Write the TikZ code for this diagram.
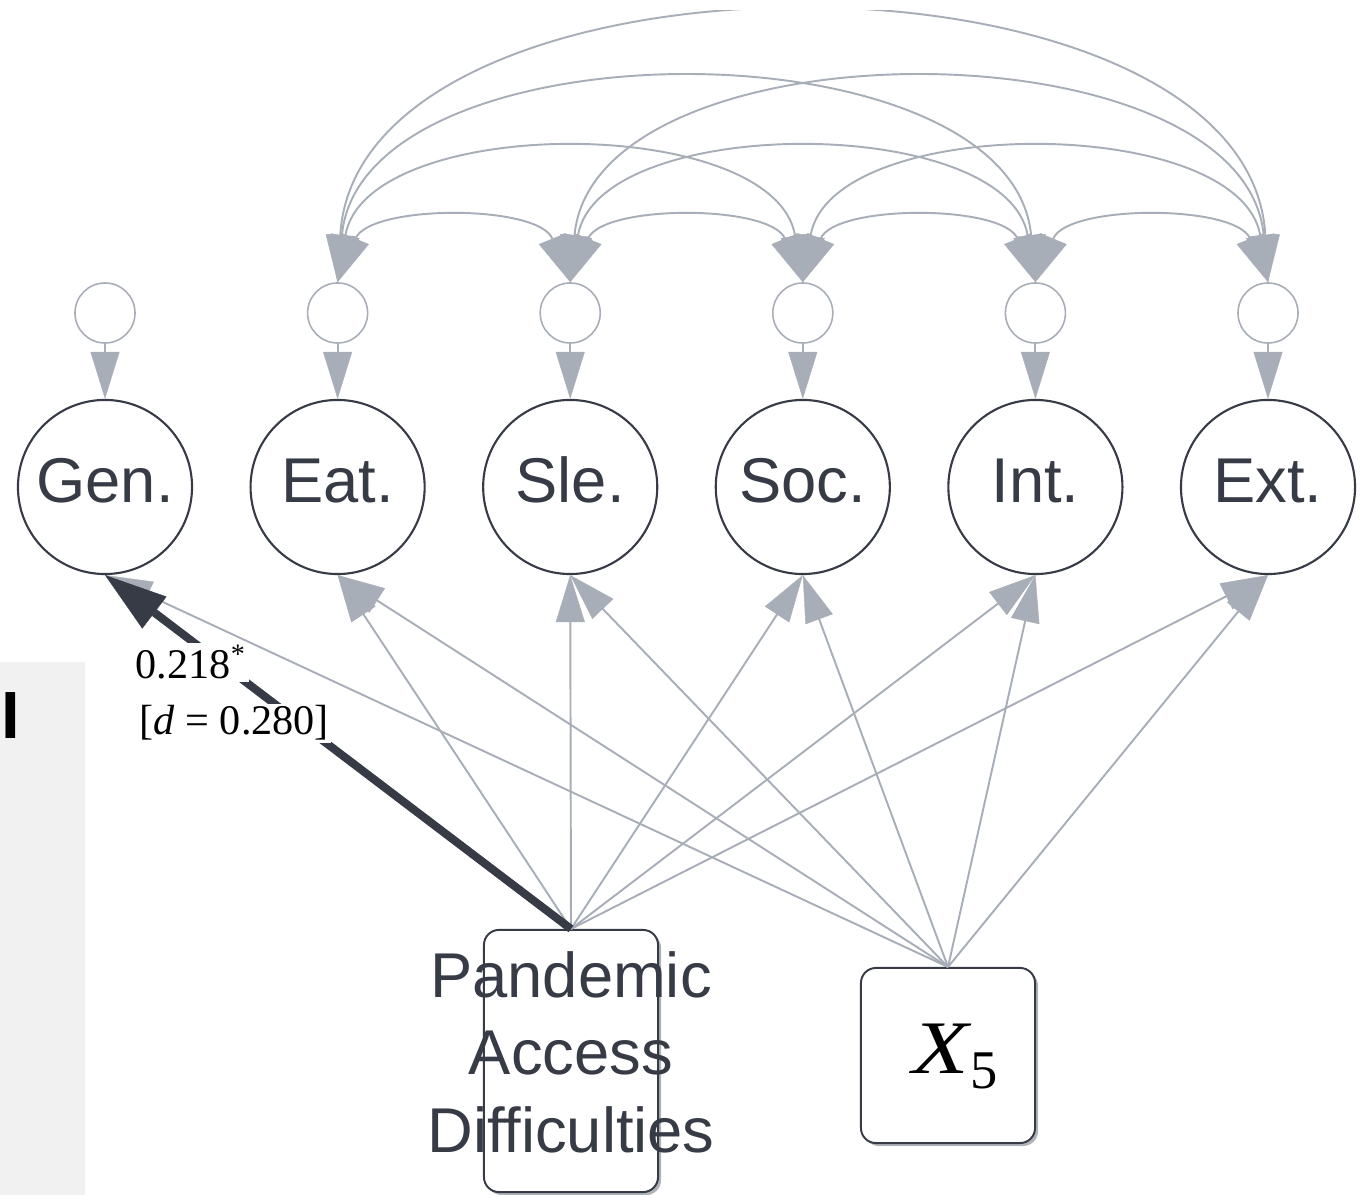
\documentclass[tikz,border=0pt]{standalone}
\usepackage{fontspec}
\usepackage{graphicx}
\newfontfamily\labelsans{Liberation Sans}
\newfontfamily\labelserif{Liberation Serif}
\usetikzlibrary{arrows.meta,calc,shadows}
\definecolor{edgegray}{HTML}{A8AEB7}
\definecolor{ink}{HTML}{363B45}
\definecolor{panel}{HTML}{F1F1F1}
\definecolor{shadowc}{HTML}{B0B4BA}
\begin{document}
\begin{tikzpicture}[x=0.01cm,y=-0.01cm,
  latent/.style={circle, draw=ink, line width=0.6pt, minimum size=1.74cm, inner sep=0pt,
    text=ink, text height=0.30cm, text depth=0cm,
    font=\labelsans\fontsize{18}{21}\selectfont},
  resid/.style={circle, draw=edgegray, line width=0.45pt, minimum size=0.6cm, inner sep=0pt},
  obsbox/.style={rectangle, rounded corners=0.15cm, draw=ink, line width=0.55pt, fill=white,
    minimum width=1.74cm, inner sep=0pt,
    drop shadow={shadow xshift=0.03cm, shadow yshift=-0.03cm, fill=shadowc, opacity=1}},
  reg/.style={draw=edgegray, line width=0.55pt,
    -{Triangle[length=0.47cm, width=0.29cm, line width=0.1pt]}},
  cov/.style={draw=edgegray, line width=0.55pt,
    {Triangle[length=0.47cm, width=0.29cm, line width=0.1pt]}-{Triangle[length=0.47cm, width=0.29cm, line width=0.1pt]}},
  sig/.style={draw=ink, line width=2.3pt,
    -{Triangle[length=0.62cm, width=0.40cm, line width=0.1pt]}},
  coef/.style={fill=white, inner sep=0.6pt, anchor=base west, text=black,
    font=\labelserif\fontsize{12}{14}\selectfont}
]
\clip (0,0) rectangle (1370,1195);

% side panel
\fill[panel] (0,662) rectangle (85,1195);
\node[font=\labelsans\bfseries\fontsize{19}{20}\selectfont, anchor=base, inner sep=0pt] (glyphI) at (10.5,739) {I};

% latent factors and their residual terms
\foreach \k/\name in {1/Gen., 2/Eat., 3/Sle., 4/Soc., 5/Int., 6/Ext.}{
  \node[latent] (g\k) at ({105+232.6*(\k-1)},487) {\name};
  \node[resid]  (r\k) at ({105+232.6*(\k-1)},313) {};
  \draw[reg] (r\k.south) -- (g\k.north);
}

% residual covariances (the top band of the drawing stays blank)
\begin{scope}
\clip (0,11) rectangle (1370,1195);
\foreach \i/\j/\a/\r in {2/3/32/78, 3/4/32/78, 4/5/32/78, 5/6/32/78,
                         2/4/28/169, 3/5/28/169, 4/6/28/169,
                         2/5/24/262, 3/6/24/262,
                         2/6/20/351}{
  \draw[cov] (r\i.north) .. controls ($(r\i.north)+(\a,-\r)$) and ($(r\j.north)+(-\a,-\r)$) .. (r\j.north);
}
\end{scope}

% observed predictors
\node[obsbox, minimum height=2.62cm] (pad) at (571,1061) {};
\node[obsbox, minimum height=1.75cm] (x5) at (948,1055.5) {};
\node[anchor=base west, inner sep=0pt] (x5lab) at (912,1073)
  {\scalebox{1.22}[1]{\labelserif\fontsize{21.5}{24}\selectfont\itshape X}\kern0.3pt\raisebox{-4.3pt}{\labelserif\fontsize{15.5}{18}\selectfont 5}};

% regression paths
\foreach \k in {1,...,6}{
  \draw[reg] (x5.north) -- (g\k.south);
}
\foreach \k in {2,...,6}{
  \draw[reg] (pad.north) -- (g\k.south);
}
\draw[sig] (pad.north) -- (g1.south);

% coefficient label
\node[coef] (lab1) at (133,679) {0.218\textsuperscript{*}};
\node[coef] (lab2) at (137,735) {[\textit{d} = 0.280]};

\node[text=ink, align=center, inner sep=0pt,
  font=\labelsans\fontsize{18}{22.05}\selectfont] (padtext) at (571,1052)
  {Pandemic\\Access\\Difficulties};
\end{tikzpicture}
\end{document}
